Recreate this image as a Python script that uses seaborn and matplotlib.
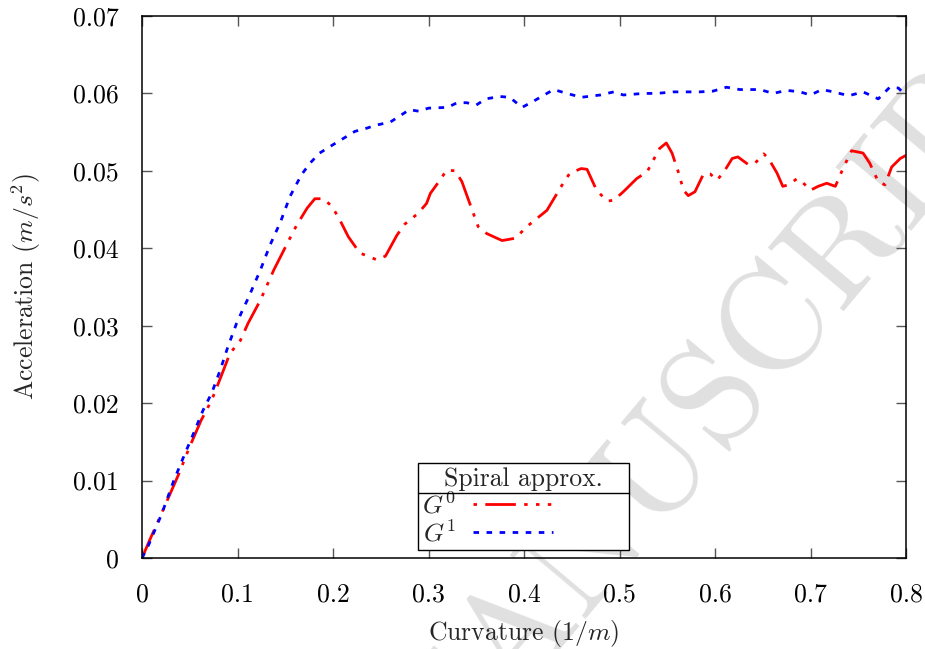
import matplotlib
matplotlib.use("Agg")
import matplotlib.pyplot as plt
import seaborn as sns
import pandas as pd
from matplotlib.lines import Line2D

# ---------------- data ----------------
g0_curv = [0, 0.008, 0.022, 0.038, 0.050, 0.062, 0.073, 0.082, 0.092, 0.103, 0.111,
           0.124, 0.138, 0.152, 0.162, 0.173, 0.181, 0.190, 0.199, 0.207, 0.216,
           0.228, 0.246, 0.255, 0.267, 0.275, 0.289, 0.298, 0.302, 0.312, 0.319,
           0.328, 0.335, 0.342, 0.352, 0.361, 0.377, 0.391, 0.403, 0.424, 0.441,
           0.448, 0.460, 0.466, 0.476, 0.487, 0.494, 0.504, 0.518, 0.529, 0.542,
           0.549, 0.555, 0.562, 0.567, 0.572, 0.579, 0.588, 0.595, 0.602, 0.609,
           0.618, 0.624, 0.635, 0.642, 0.651, 0.656, 0.665, 0.671, 0.677, 0.686,
           0.691, 0.700, 0.708, 0.717, 0.726, 0.734, 0.743, 0.755, 0.762, 0.771,
           0.778, 0.785, 0.794, 0.800]
g0_acc = [0, 0.0023, 0.0062, 0.0107, 0.0144, 0.0178, 0.0204, 0.0232, 0.0264, 0.0281, 0.0303,
          0.0333, 0.0372, 0.0406, 0.0430, 0.0452, 0.0464, 0.0464, 0.0454, 0.0437, 0.0415,
          0.0394, 0.0385, 0.0390, 0.0417, 0.0431, 0.0445, 0.0458, 0.0471, 0.0488, 0.0501,
          0.0500, 0.0486, 0.0462, 0.0428, 0.0419, 0.0410, 0.0413, 0.0428, 0.0449, 0.0484,
          0.0497, 0.0503, 0.0502, 0.0475, 0.0461, 0.0462, 0.0473, 0.0490, 0.0499, 0.0529,
          0.0536, 0.0523, 0.0497, 0.0475, 0.0468, 0.0473, 0.0496, 0.0496, 0.0488, 0.0498,
          0.0516, 0.0518, 0.0508, 0.0510, 0.0522, 0.0516, 0.0497, 0.0480, 0.0482, 0.0490,
          0.0486, 0.0475, 0.0480, 0.0484, 0.0480, 0.0503, 0.0526, 0.0523, 0.0510, 0.0486,
          0.0482, 0.0505, 0.0516, 0.0520]

g1_curv = [0, 0.007, 0.021, 0.033, 0.043, 0.054, 0.064, 0.073, 0.082, 0.090, 0.099,
           0.106, 0.111, 0.124, 0.134, 0.145, 0.155, 0.167, 0.176, 0.186, 0.199,
           0.211, 0.223, 0.235, 0.245, 0.260, 0.270, 0.280, 0.290, 0.300, 0.320,
           0.330, 0.340, 0.350, 0.360, 0.375, 0.385, 0.398, 0.410, 0.431, 0.445,
           0.460, 0.480, 0.494, 0.504, 0.525, 0.539, 0.556, 0.584, 0.598, 0.612,
           0.626, 0.647, 0.661, 0.675, 0.689, 0.700, 0.712, 0.724, 0.740, 0.755,
           0.771, 0.783, 0.792, 0.800]
g1_acc = [0, 0.0017, 0.0058, 0.0099, 0.0129, 0.0161, 0.0191, 0.0213, 0.0243, 0.0273, 0.0303,
          0.0322, 0.0335, 0.0372, 0.0404, 0.0434, 0.0467, 0.0495, 0.0510, 0.0523, 0.0533,
          0.0542, 0.0551, 0.0555, 0.0559, 0.0563, 0.0571, 0.0579, 0.0577, 0.0581, 0.0582,
          0.0588, 0.0588, 0.0585, 0.0593, 0.0596, 0.0595, 0.0582, 0.0590, 0.0605, 0.0600,
          0.0595, 0.0598, 0.0602, 0.0598, 0.0600, 0.0600, 0.0602, 0.0602, 0.0603, 0.0608,
          0.0605, 0.0605, 0.0600, 0.0604, 0.0602, 0.0598, 0.0605, 0.0602, 0.0597, 0.0602,
          0.0593, 0.0608, 0.0607, 0.0597]

series_labels = ["$G^0$", "$G^1$"]
legend_title = "Spiral approx."
x_ticks = [0, 0.1, 0.2, 0.3, 0.4, 0.5, 0.6, 0.7, 0.8]
x_tick_labels = ["0", "0.1", "0.2", "0.3", "0.4", "0.5", "0.6", "0.7", "0.8"]
y_ticks = [0, 0.01, 0.02, 0.03, 0.04, 0.05, 0.06, 0.07]
y_tick_labels = ["0", "0.01", "0.02", "0.03", "0.04", "0.05", "0.06", "0.07"]
x_label = "Curvature ($1/m$)"
y_label = "Acceleration ($m/s^2$)"
watermark = "ACCEPTED MANUSCRIPT"

# ---------------- style ----------------
sns.set_theme(style="ticks")
plt.rcParams["font.family"] = ["cmr10", "DejaVu Serif"]
plt.rcParams["mathtext.fontset"] = "cm"
plt.rcParams["axes.formatter.use_mathtext"] = True
plt.rcParams["lines.scale_dashes"] = False
FS = 18.5

fig = plt.figure(figsize=(9.25, 6.49), dpi=100)
fig.patch.set_facecolor("white")
ax = fig.add_axes([142 / 925, 91 / 649, 764 / 925, 542 / 649])
ax.set_facecolor("none")

# watermark behind everything
fig.text(0.478, -0.13, watermark, fontsize=104, color="#e0e0e0", rotation=50,
         rotation_mode="anchor", ha="center", va="center", zorder=-5,
         family=["cmr10", "DejaVu Serif"])

df0 = pd.DataFrame({"curv": g0_curv, "acc": g0_acc})
df1 = pd.DataFrame({"curv": g1_curv, "acc": g1_acc})
sns.lineplot(data=df0, x="curv", y="acc", ax=ax, color="#ff0000", linewidth=2.0,
             label=series_labels[0], legend=False)
sns.lineplot(data=df1, x="curv", y="acc", ax=ax, color="#0000ff", linewidth=2.0,
             label=series_labels[1], legend=False)
l0, l1 = ax.lines[0], ax.lines[1]
l0.set_dashes([22, 6, 2.5, 6, 2.5, 6])
l1.set_dashes([4, 5.4])
for ln in (l0, l1):
    ln.set_dash_capstyle("butt")
    ln.set_solid_capstyle("butt")

ax.set_xlim(0, 0.8)
ax.set_ylim(0, 0.07)
ax.set_xticks(x_ticks)
ax.set_xticklabels(x_tick_labels)
ax.set_yticks(y_ticks)
ax.set_yticklabels(y_tick_labels)
ax.tick_params(direction="in", length=7, width=1.0, color="#555555",
               top=True, right=True, labelsize=FS, labelcolor="black")
ax.tick_params(axis="x", pad=18)
ax.tick_params(axis="y", pad=17)
for sp in ax.spines.values():
    sp.set_visible(True)
    sp.set_color("black")
    sp.set_linewidth(1.1)

ax.set_xlabel(x_label, fontsize=FS, labelpad=8)
ax.set_ylabel(y_label, fontsize=FS, labelpad=21)

handles = [Line2D([], [], color="#ff0000", linewidth=2.0, dashes=[2.5, 6, 22, 6, 2.5, 6, 2.5, 6]),
           Line2D([], [], color="#0000ff", linewidth=2.0, dashes=[4, 5.4])]
for h in handles:
    h.set_dash_capstyle("butt")
leg = ax.legend(handles, series_labels, title=legend_title, loc="lower left",
                bbox_to_anchor=((418 - 142) / 764, (558 - 550) / 542, 211 / 764, 0.16),
                mode="expand", borderaxespad=0, fancybox=False,
                edgecolor="black", framealpha=1, fontsize=FS, title_fontsize=FS,
                markerfirst=False, handlelength=3.1, handletextpad=0.7,
                labelspacing=0.05, borderpad=0.15, alignment="center")
leg.get_frame().set_linewidth(1.0)

fig.canvas.draw()
bb_leg = leg.get_window_extent()
bb_title = leg.get_title().get_window_extent()
y_sep = bb_title.y0 - 2
inv = fig.transFigure.inverted()
(fx0, fy), (fx1, _) = inv.transform([(bb_leg.x0, y_sep), (bb_leg.x1, y_sep)])
fig.add_artist(Line2D([fx0, fx1], [fy, fy], transform=fig.transFigure,
                      color="black", linewidth=1.0, zorder=10))

fig.savefig("out.png", dpi=100)
